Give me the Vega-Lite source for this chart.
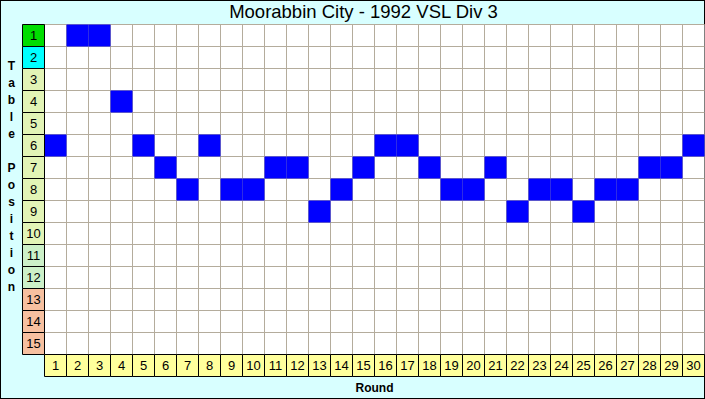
{
  "$schema": "https://vega.github.io/schema/vega-lite/v6.json",
  "width": 705,
  "height": 399,
  "autosize": {"type": "none"},
  "padding": 0,
  "background": "#D8FFFF",
  "config": {
    "view": {"fill": "#D8FFFF", "stroke": "#000000", "strokeWidth": 2},
    "font": "Liberation Sans",
    "axis": {"grid": false, "labels": false, "ticks": false, "domain": false}
  },
  "title": {
    "text": "Moorabbin City - 1992 VSL Div 3",
    "font": "Liberation Sans",
    "fontSize": 18.5,
    "fontWeight": "normal",
    "color": "#000000",
    "anchor": "middle",
    "offset": -21,
    "dx": 11
  },
  "datasets": {
    "rounds": [
      {"round": 1, "pos": 6}, {"round": 2, "pos": 1}, {"round": 3, "pos": 1},
      {"round": 4, "pos": 4}, {"round": 5, "pos": 6}, {"round": 6, "pos": 7},
      {"round": 7, "pos": 8}, {"round": 8, "pos": 6}, {"round": 9, "pos": 8},
      {"round": 10, "pos": 8}, {"round": 11, "pos": 7}, {"round": 12, "pos": 7},
      {"round": 13, "pos": 9}, {"round": 14, "pos": 8}, {"round": 15, "pos": 7},
      {"round": 16, "pos": 6}, {"round": 17, "pos": 6}, {"round": 18, "pos": 7},
      {"round": 19, "pos": 8}, {"round": 20, "pos": 8}, {"round": 21, "pos": 7},
      {"round": 22, "pos": 9}, {"round": 23, "pos": 8}, {"round": 24, "pos": 8},
      {"round": 25, "pos": 9}, {"round": 26, "pos": 8}, {"round": 27, "pos": 8},
      {"round": 28, "pos": 7}, {"round": 29, "pos": 7}, {"round": 30, "pos": 6}
    ],
    "positions": [
      {"pos": 1, "zone": "Champion"}, {"pos": 2, "zone": "Runner-up"},
      {"pos": 3, "zone": "Upper"}, {"pos": 4, "zone": "Upper"}, {"pos": 5, "zone": "Upper"},
      {"pos": 6, "zone": "Upper"}, {"pos": 7, "zone": "Upper"}, {"pos": 8, "zone": "Upper"},
      {"pos": 9, "zone": "Upper"}, {"pos": 10, "zone": "Upper"},
      {"pos": 11, "zone": "Lower"}, {"pos": 12, "zone": "Lower"},
      {"pos": 13, "zone": "Relegation"}, {"pos": 14, "zone": "Relegation"}, {"pos": 15, "zone": "Relegation"}
    ]
  },
  "layer": [
    {
      "data": {"name": "positions"},
      "mark": {"type": "rect", "fill": "#FFFFFF"},
      "encoding": {
        "y": {
          "field": "pos", "type": "ordinal",
          "scale": {"type": "band", "domain": [1,2,3,4,5,6,7,8,9,10,11,12,13,14,15,16], "range": [24.5, 376.5], "paddingInner": 0, "paddingOuter": 0},
          "axis": {
            "title": ["T", "a", "b", "l", "e", "\u200b", "P", "o", "s", "i", "t", "i", "o", "n"],
            "titleAngle": 0,
            "titleX": 11,
            "titleY": 60,
            "titleAlign": "center",
            "titleBaseline": "top",
            "titleFontSize": 12,
            "titleFontWeight": "bold",
            "titleLineHeight": 17,
            "titleColor": "#000000",
            "titleFont": "Liberation Sans"
          }
        },
        "x": {
          "datum": 1, "type": "ordinal", "bandPosition": 0,
          "scale": {"type": "band", "domain": [0,1,2,3,4,5,6,7,8,9,10,11,12,13,14,15,16,17,18,19,20,21,22,23,24,25,26,27,28,29,30], "range": [22.5, 704.5], "paddingInner": 0, "paddingOuter": 0},
          "axis": {
            "title": "Round",
            "titleX": 374,
            "titleY": -12,
            "titleAlign": "center",
            "titleBaseline": "middle",
            "titleFontSize": 12,
            "titleFontWeight": "bold",
            "titleColor": "#000000",
            "titleFont": "Liberation Sans"
          }
        },
        "x2": {"datum": 30, "bandPosition": 1}
      }
    },
    {
      "data": {"name": "rounds"},
      "mark": {"type": "rule", "color": "#B4AC9C", "strokeWidth": 1},
      "encoding": {
        "x": {"field": "round", "type": "ordinal", "bandPosition": 0},
        "y": {"datum": 1, "type": "ordinal", "bandPosition": 0},
        "y2": {"datum": 15, "bandPosition": 1}
      }
    },
    {
      "data": {"name": "positions"},
      "mark": {"type": "rule", "color": "#B4AC9C", "strokeWidth": 1},
      "encoding": {
        "y": {"field": "pos", "type": "ordinal", "bandPosition": 0},
        "x": {"datum": 1, "type": "ordinal", "bandPosition": 0},
        "x2": {"datum": 30, "bandPosition": 1}
      }
    },
    {
      "data": {"name": "rounds"},
      "mark": {"type": "rect", "fill": "#0000FF"},
      "encoding": {
        "x": {"field": "round", "type": "ordinal"},
        "y": {"field": "pos", "type": "ordinal"}
      }
    },
    {
      "data": {"name": "positions"},
      "mark": {"type": "rect", "stroke": "#000000", "strokeWidth": 1},
      "encoding": {
        "x": {"datum": 0, "type": "ordinal"},
        "y": {"field": "pos", "type": "ordinal"},
        "fill": {
          "field": "zone", "type": "nominal", "legend": null,
          "scale": {"domain": ["Champion", "Runner-up", "Upper", "Lower", "Relegation"], "range": ["#00DD00", "#00FFFF", "#E2F4B6", "#CCF0C8", "#F6C0A0"]}
        }
      }
    },
    {
      "data": {"name": "positions"},
      "mark": {"type": "text", "font": "Liberation Sans", "fontSize": 13, "color": "#000000", "align": "center", "baseline": "middle"},
      "encoding": {
        "x": {"datum": 0, "type": "ordinal"},
        "y": {"field": "pos", "type": "ordinal"},
        "text": {"field": "pos", "type": "ordinal"}
      }
    },
    {
      "data": {"name": "rounds"},
      "mark": {"type": "rect", "fill": "#FFFF9C", "stroke": "#000000", "strokeWidth": 1},
      "encoding": {
        "x": {"field": "round", "type": "ordinal"},
        "y": {"datum": 16, "type": "ordinal"}
      }
    },
    {
      "data": {"name": "rounds"},
      "mark": {"type": "text", "font": "Liberation Sans", "fontSize": 13, "color": "#000000", "align": "center", "baseline": "middle"},
      "encoding": {
        "x": {"field": "round", "type": "ordinal"},
        "y": {"datum": 16, "type": "ordinal"},
        "text": {"field": "round", "type": "ordinal"}
      }
    }
  ]
}
